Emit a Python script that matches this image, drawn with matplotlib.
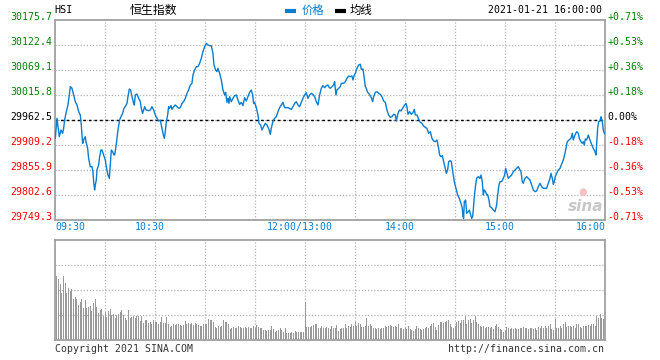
import numpy as np
import matplotlib
matplotlib.use("Agg")
import matplotlib.pyplot as plt
from matplotlib.lines import Line2D
from matplotlib.transforms import offset_copy

# HSI intraday, 2021-01-21 (minutes after 09:30, lunch break removed)
prev_close = 29962.5
price_levels = [29749.3, 29802.6, 29855.9, 29909.2, 29962.5, 30015.8, 30069.1, 30122.4, 30175.7]
time_ticks = [0, 60, 150, 210, 270, 330]
time_labels = ["09:30", "10:30", "12:00/13:00", "14:00", "15:00", "16:00"]

minute = [
    0, 1, 2.4, 3.4, 4.4, 5, 5.6, 6.4, 7.6, 8.4, 9, 10, 11, 12, 13, 14, 15, 15.6, 16, 16.4,
    17, 18, 18.4, 19.4, 20, 21, 22, 22.6, 23, 23.6, 24, 24.6, 25, 26, 26.6, 27.4, 28, 29, 30, 30.6,
    31.6, 32.4, 33, 33.6, 34.4, 35.2, 35.6, 36.4, 37, 37.6, 38.6, 39.4, 40.4, 41.2, 42, 43, 43.6, 44.4, 45.2, 46,
    47, 47.4, 48, 49, 50, 51, 51.6, 52.4, 53, 53.6, 54.4, 56, 57, 58, 59, 60, 61, 62, 63, 63.6,
    64.6, 65.4, 66, 66.6, 67.4, 68, 68.6, 69.4, 70, 71, 72, 73, 74, 75, 76, 77, 78, 79, 80, 81,
    82, 82.6, 83.6, 84.6, 85.6, 86.6, 87.6, 88.6, 89.6, 90.6, 91.6, 92.6, 93.6, 94.6, 95.2, 96.2, 97, 97.6, 98.6, 99.6,
    100.6, 101.6, 102.2, 103, 103.6, 104.2, 104.6, 105.6, 106.6, 107.6, 108.6, 109.6, 110.6, 111.6, 112.6, 113.6, 114.6, 115.6, 116.6, 117.6,
    118.4, 119, 119.6, 120.6, 121.6, 122.2, 123.2, 124, 125, 126, 127, 128, 129, 129.6, 130.6, 131.6, 132.6, 133.6, 134.6, 135.6,
    136.6, 137.6, 139.6, 141.6, 142.6, 143.6, 144.6, 145.6, 146.6, 147.6, 148.6, 149.6, 150.6, 151.6, 152.6, 153.6, 154.6, 155.6, 156.6, 157.6,
    158.6, 159.6, 160.6, 161.6, 162.6, 163.6, 164, 165, 166, 167, 167.6, 168.4, 169, 170, 171, 171.6, 173, 174, 175, 176,
    177, 178, 178.6, 179.4, 180, 181, 182, 183, 183.6, 184.6, 185, 185.6, 186, 186.6, 187.4, 188.4, 189.6, 190.4, 191, 192,
    193, 194, 195, 196, 197, 198, 199, 200, 201, 202, 203, 204, 204.6, 205.4, 206, 206.6, 207.4, 208.4, 209.4, 210.4,
    211, 211.6, 212.6, 213.6, 214.6, 215.4, 216, 217, 218, 219, 220, 221, 222, 223, 224, 225, 226, 227, 228, 229,
    229.6, 230, 230.6, 231.4, 232.2, 233, 234, 234.6, 235.4, 236, 237, 237.6, 238.4, 239.4, 240.4, 241.4, 242.4, 243.4, 244.2, 244.6,
    245, 245.4, 246.2, 246.8, 247.8, 248.4, 249.2, 249.8, 250.4, 250.8, 251.4, 252.2, 252.8, 253.8, 254.8, 255.4, 256.2, 256.8, 257.4, 258.2,
    258.8, 259.4, 260.2, 260.8, 261.8, 262.8, 263.8, 264.8, 265.4, 266.2, 266.8, 267.8, 268.8, 269.6, 270.2, 270.8, 271.8, 272.8, 273.8, 274.8,
    275.8, 276.8, 277.8, 278.8, 279.4, 280.2, 280.8, 281.8, 282.8, 283.8, 284.8, 285.8, 286.8, 287.8, 288.8, 289.8, 290.8, 291.8, 292.8, 294.8,
    295.8, 296.8, 297.4, 298.2, 298.8, 299.4, 300, 300.8, 301.8, 302.8, 303.8, 304.8, 305.8, 306.4, 307.2, 308.2, 309.4, 310.2, 310.8, 311.8,
    312.8, 313.8, 314.4, 315.4, 316.2, 316.8, 317.4, 318, 318.8, 319.8, 320.8, 321.8, 322.8, 323.8, 324.4, 324.8, 325.4, 326, 326.8, 327.4,
    328.2, 328.8, 329.4, 330,
]
price = [
    29923.4, 29966.1, 29927.0, 29941.2, 29934.1, 29944.7, 29962.5, 29976.7, 29994.5, 30015.8, 30033.6, 30030.0, 30015.8, 30001.6, 29994.5, 29980.3, 29973.2, 29951.8, 29930.5, 29912.8,
    29919.9, 29927.0, 29916.3, 29902.1, 29880.8, 29863.0, 29863.0, 29852.3, 29831.0, 29813.3, 29823.9, 29834.6, 29855.9, 29866.6, 29884.3, 29898.5, 29898.5, 29887.9, 29877.2, 29863.0,
    29845.2, 29838.1, 29866.6, 29898.5, 29895.0, 29887.9, 29887.9, 29905.6, 29923.4, 29941.2, 29962.5, 29969.6, 29976.7, 29987.4, 29990.9, 29998.0, 30012.2, 30028.6, 30026.5, 30012.2,
    29998.0, 29994.5, 30015.8, 30017.9, 30008.7, 30001.6, 29987.4, 29976.7, 29983.8, 29990.9, 29983.8, 29982.4, 29983.8, 29990.9, 29983.8, 29973.2, 29966.1, 29960.4, 29962.5, 29951.8,
    29934.1, 29923.4, 29937.6, 29958.9, 29973.2, 29990.9, 29987.4, 29993.1, 29985.2, 29990.9, 29994.5, 29990.9, 29987.4, 29988.8, 29998.0, 30001.6, 30008.7, 30019.4, 30026.5, 30037.1,
    30040.7, 30058.4, 30069.1, 30076.2, 30076.2, 30083.3, 30094.0, 30108.2, 30118.9, 30126.0, 30122.4, 30121.0, 30121.0, 30104.6, 30079.8, 30069.1, 30065.6, 30072.7, 30062.0, 30047.8,
    30026.5, 30015.8, 30021.5, 30000.2, 30008.7, 29998.0, 30012.2, 30001.6, 30008.7, 30014.4, 30015.8, 30005.1, 29995.9, 30000.2, 29993.1, 30010.1, 30003.0, 30012.2, 30021.5, 30026.5,
    30015.8, 29998.0, 30000.2, 29988.8, 29973.2, 29955.4, 29951.8, 29941.2, 29948.3, 29955.4, 29951.8, 29944.7, 29931.9, 29944.7, 29960.4, 29966.1, 29969.6, 29980.3, 29988.8, 29994.5,
    30000.2, 29988.8, 29988.8, 29985.2, 29990.9, 29998.0, 30001.6, 29994.5, 29990.9, 30000.2, 30008.7, 30015.8, 30020.8, 30008.7, 30015.8, 30019.4, 30017.2, 30012.2, 30001.6, 29994.5,
    30015.8, 30030.0, 30035.7, 30031.4, 30035.7, 30037.1, 30033.6, 30030.0, 30033.6, 30037.1, 30044.2, 30015.8, 30026.5, 30030.0, 30033.6, 30040.7, 30040.7, 30044.2, 30051.3, 30056.3,
    30054.9, 30056.3, 30047.8, 30058.4, 30062.0, 30072.7, 30079.8, 30081.2, 30070.5, 30071.2, 30062.0, 30044.2, 30033.6, 30030.0, 30021.5, 30017.9, 30010.1, 30001.6, 30012.2, 30021.5,
    30022.9, 30019.4, 30017.2, 30012.2, 30003.0, 30000.2, 29983.8, 29973.2, 29968.2, 29969.6, 29974.6, 29973.2, 29960.4, 29973.2, 29980.3, 29983.8, 29981.7, 29987.4, 29993.1, 29998.0,
    29990.9, 29974.6, 29980.3, 29974.6, 29978.1, 29985.2, 29973.2, 29973.2, 29964.6, 29957.5, 29955.4, 29949.7, 29946.9, 29944.7, 29934.1, 29937.6, 29923.4, 29917.7, 29916.3, 29919.9,
    29909.2, 29902.1, 29887.9, 29884.3, 29886.5, 29873.7, 29859.4, 29848.8, 29855.9, 29873.7, 29875.8, 29873.7, 29853.8, 29831.0, 29816.8, 29802.6, 29795.5, 29784.8, 29774.2, 29756.4,
    29752.8, 29788.4, 29791.9, 29763.5, 29767.1, 29770.6, 29760.0, 29752.8, 29756.4, 29770.6, 29799.0, 29823.9, 29838.1, 29841.7, 29838.1, 29845.2, 29831.0, 29802.6, 29813.3, 29809.7,
    29802.6, 29804.0, 29791.9, 29777.7, 29775.6, 29770.6, 29767.1, 29781.3, 29802.6, 29823.9, 29831.0, 29831.0, 29838.1, 29845.2, 29859.4, 29852.3, 29838.1, 29841.7, 29845.2, 29852.3,
    29855.9, 29859.4, 29863.0, 29855.9, 29852.3, 29831.0, 29827.5, 29838.1, 29841.7, 29838.1, 29834.6, 29823.9, 29813.3, 29809.7, 29811.1, 29820.4, 29827.5, 29820.4, 29816.8, 29816.8,
    29827.5, 29838.1, 29848.8, 29838.1, 29825.3, 29831.0, 29841.7, 29848.8, 29855.9, 29859.4, 29868.0, 29877.2, 29891.4, 29902.1, 29916.3, 29919.9, 29923.4, 29934.1, 29919.9, 29930.5,
    29937.6, 29934.1, 29923.4, 29916.3, 29912.8, 29916.3, 29909.2, 29922.0, 29919.9, 29930.5, 29919.9, 29910.6, 29902.1, 29895.0, 29887.9, 29909.2, 29944.7, 29958.9, 29960.4, 29969.6,
    29958.9, 29941.2, 29934.1, 29931.9,
]

# one bar per minute, minute 1..329 (arbitrary units, 100 per grid row)
volume = [
    256, 243, 223, 187, 256, 227, 187, 207, 197, 203,
    163, 171, 163, 140, 151, 163, 127, 159, 127, 133,
    137, 116, 147, 163, 133, 107, 119, 123, 97, 111,
    91, 116, 123, 100, 103, 87, 100, 105, 111, 120,
    100, 87, 80, 119, 87, 91, 95, 87, 97, 97,
    76, 97, 68, 80, 79, 67, 73, 63, 79, 71,
    71, 65, 71, 91, 67, 69, 91, 63, 53, 57,
    63, 60, 63, 63, 60, 57, 60, 76, 65, 67,
    63, 67, 60, 68, 63, 60, 55, 57, 63, 63,
    63, 83, 79, 79, 73, 53, 49, 57, 53, 55,
    79, 71, 71, 63, 44, 49, 53, 49, 49, 57,
    53, 49, 47, 52, 47, 53, 49, 49, 55, 49,
    60, 53, 47, 49, 40, 39, 36, 40, 39, 57,
    44, 33, 36, 40, 47, 40, 33, 47, 27, 29,
    29, 31, 29, 35, 33, 33, 33, 33, 33, 151,
    53, 53, 52, 57, 60, 64, 63, 49, 49, 57,
    49, 47, 53, 47, 44,
    57, 47, 49, 60, 36, 44, 47, 47, 63, 49,
    57, 53, 63, 57, 71, 55, 67, 63, 53, 53,
    55, 87, 57, 63, 55, 49, 49, 44, 49, 44,
    47, 49, 57, 53, 57, 60, 57, 53, 57, 53,
    63, 47, 47, 44, 47, 44, 57, 44, 39, 36,
    44, 57, 49, 44, 40, 44, 49, 53, 49, 57,
    63, 69, 53, 40, 60, 73, 71, 67, 73, 76,
    80, 63, 53, 49, 57, 73, 76, 67, 80, 80,
    97, 63, 80, 84, 67, 80, 97, 73, 63, 57,
    53, 57, 49, 53, 53, 47, 53, 44, 57, 63,
    53, 44, 40, 33, 36, 53, 47, 44, 49, 44,
    47, 44, 44, 47, 49, 53, 49, 49, 44, 49,
    49, 44, 47, 39, 53, 47, 57, 49, 57, 47,
    55, 63, 44, 40, 83, 49, 49, 57, 49, 63,
    71, 53, 57, 57, 53, 57, 49, 63, 63, 53,
    49, 57, 57, 57, 60, 57, 63, 63, 57, 97,
    87, 103, 87, 83,
]

BLUE = "#0a7dcf"
GRID = "#b4b4b4"
FRAME = "#a0a0a0"
GREEN = "#008000"
RED = "#ff0000"
MONO = "DejaVu Sans Mono"
CJK = ["Noto Sans CJK SC", "DejaVu Sans"]
W, H = 660, 360


def px(x, y):
    return x / W, 1 - y / H


fig = plt.figure(figsize=(6.6, 3.6), dpi=100)
ax = fig.add_axes([55.3 / W, 1 - 220 / H, 550 / W, 200 / H])
axv = fig.add_axes([55.3 / W, 1 - 340 / H, 550 / W, 100 / H])

for a in (ax, axv):
    a.set_xlim(0, 330)
    a.set_axisbelow(True)
    for s in a.spines.values():
        s.set_color(FRAME)
        s.set_linewidth(1.3)
    a.set_xticks(np.arange(30, 330, 30))
    a.grid(True, color=GRID, ls=(0, (1, 1.5)), lw=0.9)
    a.tick_params(length=0, labelbottom=False, labelleft=False)

# price panel
ax.set_ylim(price_levels[0], price_levels[-1])
ax.set_yticks(price_levels[1:-1])
ax.plot(minute, price, color=BLUE, lw=1.0, zorder=3)
ax.axhline(prev_close, color="black", lw=1, ls=(0, (2, 2)), zorder=2)

left_tr = offset_copy(ax.get_yaxis_transform(), fig, x=-3, y=3, units="dots")
right_tr = offset_copy(ax.get_yaxis_transform(), fig, x=2, y=3, units="dots")
for lv in price_levels:
    pct = (lv - prev_close) / prev_close * 100
    if abs(pct) < 0.005:
        col, ptxt = "black", "0.00%"
    else:
        col = GREEN if pct > 0 else RED
        ptxt = f"{pct:+.2f}%"
    ax.text(0, lv, f"{lv:.1f}", transform=left_tr, ha="right", va="center",
            color=col, family=MONO, fontsize=7.1)
    ax.text(1, lv, ptxt, transform=right_tr, ha="left", va="center",
            color=col, family=MONO, fontsize=7.1)

x_tr = offset_copy(ax.get_xaxis_transform(), fig, x=-6, y=-7, units="dots")
x_tr_edge = offset_copy(ax.get_xaxis_transform(), fig, x=0, y=-7, units="dots")
for t, lab in zip(time_ticks, time_labels):
    if t == time_ticks[0]:
        ax.text(t, 0, lab, transform=x_tr_edge, ha="left", va="center", color=BLUE, family=MONO, fontsize=7.1)
    elif t == time_ticks[-1]:
        ax.text(t, 0, lab, transform=x_tr_edge, ha="right", va="center", color=BLUE, family=MONO, fontsize=7.1)
    else:
        ax.text(t, 0, lab, transform=x_tr, ha="center", va="center", color=BLUE, family=MONO, fontsize=7.1)

# volume panel
axv.set_ylim(0, 400)
axv.set_yticks([100, 200, 300])
axv.bar(np.arange(1, len(volume) + 1), volume, width=0.6, color="#999999", linewidth=0, zorder=2)

# header
fig.text(*px(54, 10), "HSI", ha="left", va="center", family=MONO, fontsize=7.3)
fig.text(*px(130, 10), "恒生指数", ha="left", va="center", family=CJK, fontsize=8.6)
fig.add_artist(Line2D([285 / W, 296 / W], [1 - 11 / H] * 2, color=BLUE, lw=3, solid_capstyle="butt"))
fig.text(*px(302, 10), "价格", ha="left", va="center", family=CJK, fontsize=8.2, color=BLUE)
fig.add_artist(Line2D([335 / W, 346 / W], [1 - 11 / H] * 2, color="black", lw=3, solid_capstyle="butt"))
fig.text(*px(350, 10), "均线", ha="left", va="center", family=CJK, fontsize=8.2)
fig.text(*px(602, 10), "2021-01-21 16:00:00", ha="right", va="center", family=MONO, fontsize=7.1)

# footer
fig.text(*px(55, 349), "Copyright 2021 SINA.COM", ha="left", va="center", family=MONO, fontsize=7.1, color="#333333")
fig.text(*px(604, 349), "http://finance.sina.com.cn", ha="right", va="center", family=MONO, fontsize=7.1, color="#333333")

# watermark
fig.text(*px(586, 207), "sina", ha="center", va="center", fontsize=11, fontweight="bold",
         style="italic", color="#c8c8c8")
fig.text(*px(583, 192), "●", ha="center", va="center", fontsize=7, color="#f6c0c0")

fig.savefig("out.png", dpi=100)
